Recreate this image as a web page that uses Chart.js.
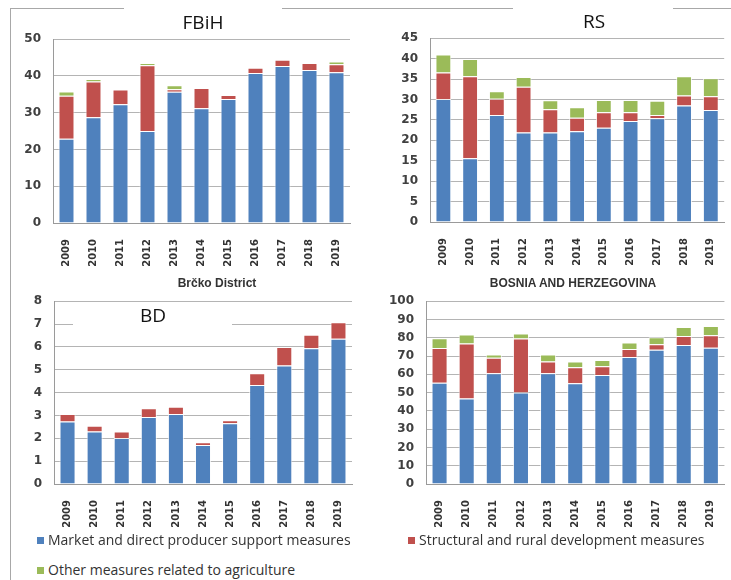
<!DOCTYPE html>
<html><head><meta charset="utf-8">
<script src="https://cdn.jsdelivr.net/npm/chart.js@4"></script>
<style>
body{margin:0;background:#fff;width:731px;height:580px;position:relative;overflow:hidden;font-family:'Open Sans',sans-serif;}
canvas{position:absolute;z-index:1}
.hl{position:absolute;height:1px;background:#a8a8a8;z-index:0}
.vl{position:absolute;width:1px;background:#a8a8a8;z-index:0}
.box{position:absolute;background:#fff;z-index:2}
.t{position:absolute;transform:translate(-50%,-50%);white-space:nowrap;z-index:3;color:#111}
.big{font-family:'Open Sans',sans-serif;font-size:19px}
.small{font-family:'Liberation Sans',sans-serif;font-weight:bold;font-size:12px;color:#333}
.lg{position:absolute;font-size:14px;color:#333;white-space:nowrap;z-index:3}
.lg i{display:inline-block;width:7px;height:7px;margin-right:4px;vertical-align:1px}
</style></head>
<body>
<div class="hl" style="left:10px;top:8px;width:721px"></div>
<div class="vl" style="left:10px;top:8px;height:572px"></div>
<canvas id="c1" width="362" height="258" style="left:0;top:20px"></canvas>
<canvas id="c2" width="361" height="258" style="left:370px;top:19px"></canvas>
<canvas id="c3" width="362" height="250" style="left:0;top:282px"></canvas>
<canvas id="c4" width="361" height="250" style="left:370px;top:282px"></canvas>
<div class="box" style="left:124px;top:3px;width:158px;height:28px"></div>
<div class="box" style="left:513px;top:3px;width:160px;height:28px"></div>
<div class="box" style="left:73px;top:306px;width:159px;height:24px"></div>
<div class="t big" style="left:203px;top:22px">FBiH</div>
<div class="t big" style="left:594px;top:21px">RS</div>
<div class="t big" style="left:153px;top:315px">BD</div>
<div class="t small" style="left:217px;top:283px">Brčko District</div>
<div class="t small" style="left:573px;top:283px">BOSNIA AND HERZEGOVINA</div>
<div class="lg" style="left:37px;top:530px"><i style="background:#4F81BD"></i>Market and direct producer support measures</div>
<div class="lg" style="left:408px;top:530px"><i style="background:#C0504D"></i>Structural and rural development measures</div>
<div class="lg" style="left:37px;top:560px"><i style="background:#9BBB59"></i>Other measures related to agriculture</div>
<script>
const years = ['2009','2010','2011','2012','2013','2014','2015','2016','2017','2018','2019'];
const seriesNames = ['Market and direct producer support measures','Structural and rural development measures','Other measures related to agriculture'];

const fbihMarket = [22.9, 28.8, 32.3, 25.0, 35.7, 31.2, 33.7, 40.8, 42.7, 41.6, 41.0];
const fbihStruct = [11.7, 9.7, 4.0, 17.9, 0.7, 5.5, 1.1, 1.4, 1.7, 1.9, 2.2];
const fbihOther  = [1.2, 0.7, 0, 0.6, 1.1, 0, 0, 0, 0, 0, 0.7];

const rsMarket = [30.1, 15.6, 26.2, 21.9, 21.9, 22.2, 23.1, 24.7, 25.4, 28.5, 27.4];
const rsStruct = [6.5, 20.1, 4.0, 11.2, 5.7, 3.3, 3.8, 2.2, 0.8, 2.5, 3.4];
const rsOther  = [4.4, 4.2, 1.8, 2.4, 2.2, 2.6, 3.0, 3.0, 3.5, 4.7, 4.4];

const bdMarket = [2.73, 2.30, 2.01, 2.93, 3.06, 1.71, 2.66, 4.33, 5.19, 5.94, 6.36];
const bdStruct = [0.33, 0.25, 0.29, 0.38, 0.32, 0.12, 0.13, 0.52, 0.81, 0.59, 0.72];
const bdOther  = [0, 0, 0, 0, 0, 0, 0, 0, 0, 0, 0];

const bihMarket = [55.4, 46.8, 60.6, 50.0, 60.6, 55.1, 59.6, 69.5, 73.5, 76.0, 74.5];
const bihStruct = [19.0, 30.1, 8.4, 29.6, 6.4, 8.8, 4.8, 4.3, 2.9, 5.0, 6.9];
const bihOther  = [5.4, 4.9, 1.9, 2.7, 3.9, 3.1, 3.5, 3.6, 3.9, 4.9, 5.1];

const colors = ['#4F81BD','#C0504D','#9BBB59'];

function make(id, market, struct, other, yMax, step, yw, xh, padTop, padRight){
  const sets = [market, struct, other].map((d,i)=>({
    label: seriesNames[i], data: d, backgroundColor: colors[i],
    borderColor: 'rgba(255,255,255,0.75)', borderWidth: 1,
    categoryPercentage: 0.8, barPercentage: 0.74
  }));
  new Chart(document.getElementById(id), {
    type: 'bar',
    data: {labels: years, datasets: sets},
    options: {
      responsive: false, animation: false,
      layout: {padding: {top: padTop, right: padRight, left: 0, bottom: 0}},
      plugins: {legend: {display: false}, tooltip: {enabled: false}},
      scales: {
        x: {stacked: true, offset: true,
            grid: {display: false},
            border: {display: true, color: '#9a9a9a'},
            ticks: {autoSkip: false, minRotation: 90, maxRotation: 90, padding: 8,
                    color: '#333', font: {family: 'DejaVu Sans', size: 10, weight: 'bold'}},
            afterFit: s => { s.height = xh; }},
        y: {stacked: true, min: 0, max: yMax,
            grid: {color: '#b4b4b4', drawTicks: false},
            border: {display: true, color: '#9a9a9a'},
            ticks: {stepSize: step, padding: 12, color: '#404040',
                    font: {family: 'DejaVu Sans', size: 12, weight: 'bold'}},
            afterFit: s => { s.width = yw; }}
      }
    }
  });
}
make('c1', fbihMarket, fbihStruct, fbihOther, 50, 10, 53, 55, 1, 12);
make('c2', rsMarket, rsStruct, rsOther, 45, 5, 60, 55, 1, 4);
make('c3', bdMarket, bdStruct, bdOther, 8, 1, 54, 48, 1, 10);
make('c4', bihMarket, bihStruct, bihOther, 100, 10, 56, 48, 1, 3);
</script>
</body></html>
